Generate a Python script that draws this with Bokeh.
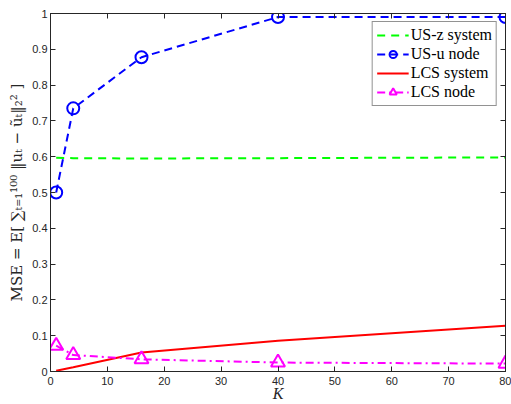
from bokeh.plotting import figure
from bokeh.models import (Legend, LegendItem, LinearAxis, FixedTicker,
                          NumeralTickFormatter, Range1d)
from bokeh.embed import file_html
from bokeh.resources import INLINE

K = [1, 4, 16, 40, 80]
us_z_system = [0.597, 0.596, 0.595, 0.596, 0.598]
us_u_node = [0.50, 0.735, 0.878, 0.99, 0.99]
lcs_system = [0.002, 0.012, 0.053, 0.086, 0.128]
lcs_node = [0.072, 0.046, 0.034, 0.025, 0.022]

x_ticks = [0, 10, 20, 30, 40, 50, 60, 70, 80]
y_ticks = [0, 0.1, 0.2, 0.3, 0.4, 0.5, 0.6, 0.7, 0.8, 0.9, 1.0]

axis_col = "#262626"

p = figure(width=511, height=404, output_backend="svg", toolbar_location=None,
           x_range=Range1d(0, 80), y_range=Range1d(0, 1),
           min_border_left=50, min_border_right=6, min_border_top=13,
           min_border_bottom=0)
p.grid.visible = False
p.outline_line_color = axis_col
p.outline_line_width = 1
p.background_fill_color = "white"
p.border_fill_color = "white"

def style_axis(ax, labels=True):
    ax.axis_line_color = axis_col
    ax.major_tick_line_color = axis_col
    ax.minor_tick_line_color = None
    ax.major_tick_in = 5
    ax.major_tick_out = 0
    ax.major_label_text_color = axis_col
    ax.major_label_text_font = "Liberation Sans"
    ax.major_label_text_font_size = "11px"
    ax.major_label_standoff = 3
    if not labels:
        ax.major_label_text_font_size = "0px"
        ax.major_label_text_alpha = 0
        ax.major_label_standoff = 0

p.xaxis.ticker = FixedTicker(ticks=x_ticks)
p.yaxis.ticker = FixedTicker(ticks=y_ticks)
p.yaxis.formatter = NumeralTickFormatter(format="0.[0]")
style_axis(p.xaxis[0])
style_axis(p.yaxis[0])
p.xaxis.major_label_standoff = 5

p.xaxis.axis_label = "K"
p.xaxis.axis_label_text_font = "Liberation Serif"
p.xaxis.axis_label_text_font_style = "italic"
p.xaxis.axis_label_text_font_size = "16px"
p.xaxis.axis_label_text_color = axis_col
p.xaxis.axis_label_standoff = -3

p.yaxis.axis_label = "MSE = E[ \u2211\u209c\u208c\u2081\u00b9\u2070\u2070 \u2016u\u209c \u2212 \u0169\u209c\u2016\u2082\u00b2 ]"
p.yaxis.axis_label_text_font = "DejaVu Serif"
p.yaxis.axis_label_text_font_style = "normal"
p.yaxis.axis_label_text_font_size = "15px"
p.yaxis.axis_label_text_color = axis_col
p.yaxis.axis_label_standoff = 3

top_ax = LinearAxis(ticker=FixedTicker(ticks=x_ticks))
style_axis(top_ax, labels=False)
p.add_layout(top_ax, "above")
right_ax = LinearAxis(ticker=FixedTicker(ticks=y_ticks))
style_axis(right_ax, labels=False)
p.add_layout(right_ax, "right")

g_line = p.line(K, us_z_system, line_color="#00ff00", line_width=2, line_dash="8 6")

b_line = p.line(K, us_u_node, line_color="#0000ff", line_width=2, line_dash="8 5")
b_mark = p.scatter(K, us_u_node, marker="circle", size=12, fill_color=None,
                   line_color="#0000ff", line_width=2)

r_line = p.line(K, lcs_system, line_color="#ff0000", line_width=2)

m_line = p.line(K, lcs_node, line_color="#ff00ff", line_width=2, line_dash="8 4 2 4")
m_mark = p.scatter(K, lcs_node, marker="triangle", size=14, fill_color=None,
                   line_color="#ff00ff", line_width=2)

legend = Legend(items=[
    LegendItem(label="US-z system", renderers=[g_line]),
    LegendItem(label="US-u node", renderers=[b_line, b_mark]),
    LegendItem(label="LCS system", renderers=[r_line]),
    LegendItem(label="LCS node", renderers=[m_line, m_mark]),
], location="top_right")
legend.label_text_font = "Liberation Serif"
legend.label_text_font_size = "16px"
legend.label_text_color = "black"
legend.border_line_color = "#262626"
legend.border_line_width = 1
legend.background_fill_alpha = 1
legend.glyph_width = 32
legend.glyph_height = 18
legend.label_height = 18
legend.spacing = 1
legend.padding = 4
legend.margin = 8
legend.label_standoff = 2
p.add_layout(legend, "center")

open("out.html", "w").write(file_html(p, INLINE))
